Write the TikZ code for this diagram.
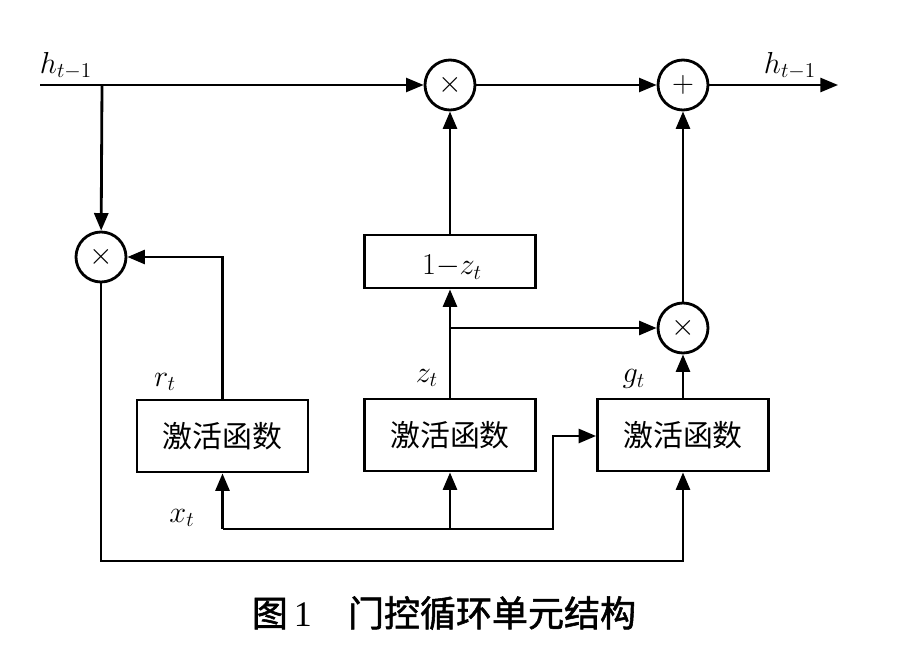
\documentclass[tikz,border=0pt]{standalone}
\usepackage{amsmath}
\usepackage{fontspec}
\setmainfont{Liberation Serif}
\newfontfamily\cjk{Noto Sans CJK SC}
\newfontfamily\cjkcap[FakeBold=1.5]{Noto Sans CJK SC}
\usepackage{tikz}
\usetikzlibrary{arrows.meta,calc}

\begin{document}
\begin{tikzpicture}[x=0.02cm, y=-0.02cm, line width=1.6pt, >={Triangle[length=10pt,width=8pt]},
  op node/.style={circle, draw, minimum size=1cm, inner sep=0pt, font=\fontsize{19}{19}\selectfont},
  act node/.style={rectangle, draw, minimum width=3.42cm, minimum height=1.44cm, inner sep=0pt, font=\cjk\fontsize{17}{17}\selectfont},
  lbl/.style={inner sep=0pt, font=\fontsize{17}{17}\selectfont}]
\useasboundingbox (0,0) rectangle (913,652);
% operators
\node[op node] (mulz) at (450,85) {$\times$};
\node[op node] (add) at (683,85) {$+$};
\node[op node] (mulr) at (101,257) {$\times$};
\node[op node] (mulg) at (683,328) {$\times$};
% boxes
\node[act node, minimum height=1.06cm] (onez) at (450,261.5) {};
\node[lbl] at (452,267) {$1{-}z_t$};
\node[act node] (boxr) at (222.5,436) {激活函数};
\node[act node] (boxz) at (450,435) {激活函数};
\node[act node] (boxg) at (683,435) {激活函数};
% free ends
\coordinate (hin) at (40,85);
\coordinate (split) at (102,85);
\coordinate (hout) at (838,85);
\coordinate (xbus) at (553,529);
\coordinate (loop) at (101,561);
% labels
\node[lbl] at (66,66) {$h_{t-1}$};
\node[lbl] at (790,66) {$h_{t-1}$};
\node[lbl] at (165,382) {$r_t$};
\node[lbl] at (427,378) {$z_t$};
\node[lbl] at (634,379) {$g_t$};
\node[lbl] at (182,518) {$x_t$};
\node[inner sep=0pt, font=\fontsize{20.5}{20.5}\selectfont] (cap) at (444,613) {{\cjkcap 图}\,1\quad{\cjkcap 门控循环单元结构}};
% connectors
\draw[->, line width=1.3pt] (hin) -- (mulz);
\draw[->] (split) -- (mulr);
\draw[->, line width=1.3pt] (mulz) -- (add);
\draw[->, line width=1.3pt] (add) -- (hout);
\draw[->] (onez) -- (mulz);
\draw[->] (boxz) -- (onez);
\draw[->] (boxz.north |- mulg) -- (mulg);
\draw[->] (boxg) -- (mulg);
\draw[->] (mulg) -- (add);
\draw[->] (boxr) |- (mulr);
\draw[->] (boxr.south |- xbus) -- (boxr);
\draw[->] (boxz.south |- xbus) -- (boxz);
\draw[->] (boxr.south |- xbus) -- (xbus) |- (boxg.west |- 0,436);
\draw[->] (mulr) -- (loop) -| (boxg);
\end{tikzpicture}
\end{document}
